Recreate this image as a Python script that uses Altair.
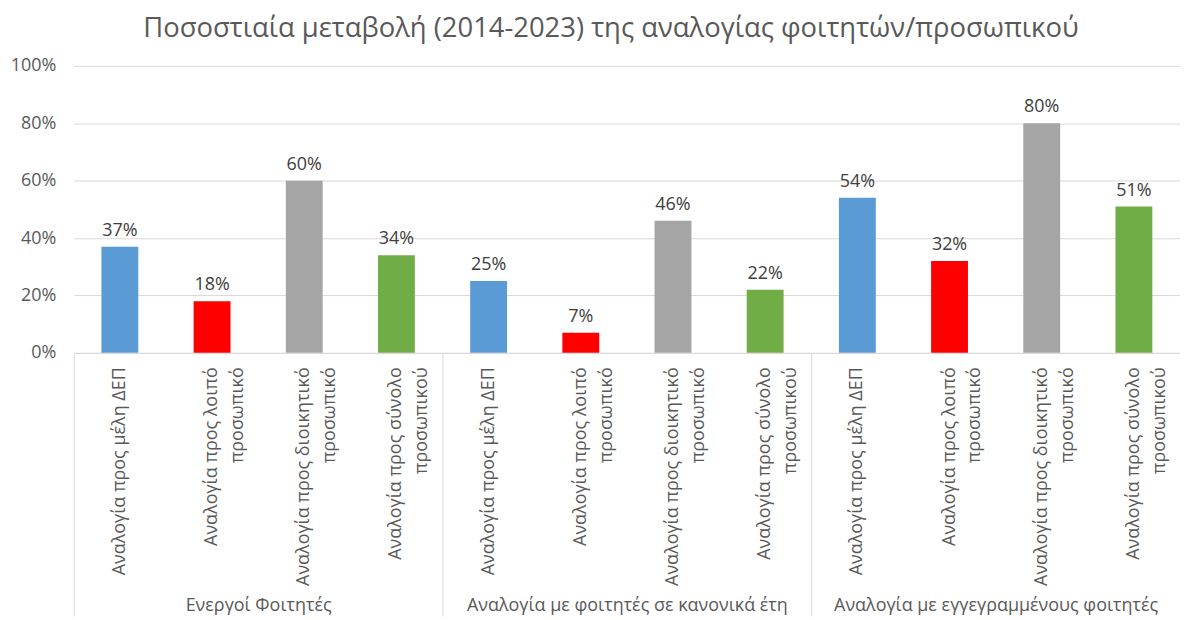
import altair as alt
import pandas as pd

title_text = "Ποσοστιαία μεταβολή (2014-2023) της αναλογίας φοιτητών/προσωπικού"

groups = [
    "Ενεργοί Φοιτητές",
    "Αναλογία με φοιτητές σε κανονικά έτη",
    "Αναλογία με εγγεγραμμένους φοιτητές",
]

# category labels, '|' marks the line break used on the axis
categories = [
    "Αναλογία προς μέλη ΔΕΠ",
    "Αναλογία προς λοιπό|προσωπικό",
    "Αναλογία προς διοικητικό|προσωπικό",
    "Αναλογία προς σύνολο|προσωπικού",
]

colors = ["#5B9BD5", "#FF0000", "#A5A5A5", "#70AD47"]

values_active = [0.37, 0.18, 0.60, 0.34]
values_regular = [0.25, 0.07, 0.46, 0.22]
values_enrolled = [0.54, 0.32, 0.80, 0.51]

rows = []
for gi, (g, vals) in enumerate(zip(groups, [values_active, values_regular, values_enrolled])):
    for ci, (c, v) in enumerate(zip(categories, vals)):
        rows.append({"group": g, "cat": c, "key": f"{gi}-{ci}|{c}", "value": v})
df = pd.DataFrame(rows)
keys = list(df["key"])
gdf = pd.DataFrame({"group": groups})

FONT = "Open Sans"
TXT = "#595959"
GRID = "#D9D9D9"
W = 1110
H = 288
SEP = 264

x_enc = alt.X(
    "key:N",
    sort=keys,
    title=None,
    scale=alt.Scale(paddingInner=0.6, paddingOuter=0.3),
    axis=alt.Axis(
        labelExpr="slice(split(datum.value, '|'), 1)",
        labelAngle=270,
        labelAlign="right",
        labelBaseline="middle",
        labelFont=FONT,
        labelFontSize=18,
        labelColor=TXT,
        labelLineHeight=26,
        labelPadding=14,
        labelLimit=400,
        ticks=False,
        domainColor=GRID,
        domainWidth=1,
        grid=False,
    ),
)

y_enc = alt.Y(
    "value:Q",
    title=None,
    scale=alt.Scale(domain=[0, 1], nice=False),
    axis=alt.Axis(
        values=[0, 0.2, 0.4, 0.6, 0.8, 1.0],
        format=".0%",
        labelFont=FONT,
        labelFontSize=18,
        labelColor=TXT,
        labelPadding=18,
        ticks=False,
        domain=False,
        gridColor=GRID,
        gridWidth=1,
    ),
)

bars = alt.Chart(df).mark_bar().encode(
    x=x_enc,
    y=y_enc,
    color=alt.Color("cat:N", scale=alt.Scale(domain=categories, range=colors), legend=None),
)

labels = alt.Chart(df).mark_text(
    baseline="alphabetic", dy=-11, font=FONT, fontSize=18, color="#404040"
).encode(
    x=alt.X("key:N", sort=keys),
    y="value:Q",
    text=alt.Text("value:Q", format=".0%"),
)

main = alt.layer(bars, labels)

# group axis: its band ticks give the vertical separators, its labels the group names
group_axis = alt.Chart(gdf).mark_rule(opacity=0).encode(
    x=alt.X(
        "group:N",
        sort=groups,
        title=None,
        scale=alt.Scale(paddingInner=0, paddingOuter=0),
        axis=alt.Axis(
            orient="bottom",
            offset=0,
            labelAngle=0,
            labelAlign="center",
            labelBaseline="middle",
            labelPadding=-10,
            labelFont=FONT,
            labelFontSize=18,
            labelColor=TXT,
            labelLimit=400,
            domain=False,
            ticks=True,
            tickBand="extent",
            tickSize=SEP,
            tickColor=GRID,
            tickWidth=1,
            tickOpacity={"condition": {"test": f"datum.value == '{groups[-1]}'", "value": 0}, "value": 1},
            grid=False,
        ),
    )
)

chart = (
    alt.layer(main, group_axis)
    .resolve_scale(x="independent")
    .resolve_axis(x="independent")
    .properties(
        width=W,
        height=H,
        padding={"left": 2, "top": 6, "right": 0, "bottom": 0},
        title=alt.TitleParams(
            title_text,
            font=FONT,
            fontSize=27.5,
            fontWeight="normal",
            color=TXT,
            anchor="middle",
            dx=-16,
            offset=14,
        ),
    )
    .configure_view(stroke=None)
)

chart.save("out.html", embed_options={"renderer": "svg", "actions": False})
